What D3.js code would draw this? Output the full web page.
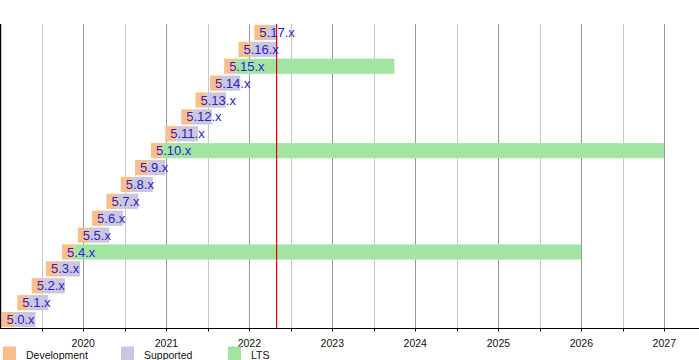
<!DOCTYPE html>
<html>
<head>
<meta charset="utf-8">
<script src="https://cdn.jsdelivr.net/npm/d3@7"></script>
<style>
  html, body { margin: 0; padding: 0; background: #fff; }
  svg { display: block; font-family: "Liberation Sans", Arial, sans-serif; }
</style>
</head>
<body>
<svg id="chart" width="699" height="360"></svg>
<script>
// ---- data ----
const versions   = ["5.0","5.1","5.2","5.3","5.4","5.5","5.6","5.7","5.8","5.9","5.10","5.11","5.12","5.13","5.14","5.15","5.16","5.17"];
const devStart   = ["2019-01-06","2019-03-17","2019-05-19","2019-07-21","2019-09-30","2019-12-08","2020-02-09","2020-04-12","2020-06-14","2020-08-16","2020-10-25","2020-12-27","2021-03-07","2021-05-09","2021-07-12","2021-09-12","2021-11-14","2022-01-23"];
const releaseDay = ["2019-03-03","2019-05-05","2019-07-07","2019-09-15","2019-11-24","2020-01-26","2020-03-29","2020-05-31","2020-08-02","2020-10-11","2020-12-13","2021-02-14","2021-04-25","2021-06-27","2021-08-29","2021-10-31","2022-01-09","2022-03-20"];
const endOfLife  = ["2019-06-05","2019-07-30","2019-10-12","2019-12-18","2025-12-31","2020-04-24","2020-06-24","2020-08-29","2020-11-02","2020-12-26","2026-12-31","2021-05-20","2021-07-20","2021-09-20","2021-11-22","2023-10-01","2022-05-01","2022-05-01"];
const isLTS      = [false,false,false,false,true,false,false,false,false,false,true,false,false,false,false,true,false,false];
const yearTicks  = ["2020","2021","2022","2023","2024","2025","2026","2027"];
const nowDate    = "2022-05-01";
const legendKeys = ["Development","Supported","LTS"];

// ---- styles ----
const colors = { Development: "#f9bf8b", Supported: "#cbc7de", LTS: "#a3e4a3" };
const textBlue = "#2a22cc";

const parse = d3.timeParse("%Y-%m-%d");
const svg = d3.select("#chart");

const topY = 24, bottomY = 328;
const x = d3.scaleTime()
  .domain([parse("2019-01-01"), parse("2027-01-01")])
  .range([0.3, 664.3]);
const y = d3.scaleBand()
  .domain(versions.slice().reverse())
  .range([topY, bottomY])
  .paddingInner(0.1)
  .paddingOuter(0.05);

// gridlines
const halfYears = d3.range(2019, 2028).map(yr => parse(yr + "-07-02"));
const years = yearTicks.map(t => parse(t + "-01-01"));
const grid = svg.append("g");
grid.selectAll("line.half").data(halfYears).join("line")
  .attr("x1", d => Math.round(x(d)) + 0.5).attr("x2", d => Math.round(x(d)) + 0.5)
  .attr("y1", topY).attr("y2", bottomY)
  .attr("stroke", "#c8c8c8").attr("stroke-width", 1);
grid.selectAll("line.year").data(years).join("line")
  .attr("x1", d => Math.round(x(d)) + 0.5).attr("x2", d => Math.round(x(d)) + 0.5)
  .attr("y1", topY).attr("y2", bottomY)
  .attr("stroke", "#999").attr("stroke-width", 1);

// bars
const rows = versions.map((v, i) => ({
  v, dev: parse(devStart[i]), rel: parse(releaseDay[i]), eol: parse(endOfLife[i]), lts: isLTS[i]
}));
const bars = svg.append("g");
rows.forEach(r => {
  const yy = y(r.v), h = y.bandwidth();
  bars.append("rect")
    .attr("x", x(r.dev)).attr("y", yy)
    .attr("width", Math.max(0, x(r.rel) - x(r.dev))).attr("height", h)
    .attr("fill", colors.Development);
  bars.append("rect")
    .attr("x", x(r.rel)).attr("y", yy)
    .attr("width", Math.max(0, x(r.eol) - x(r.rel))).attr("height", h)
    .attr("fill", r.lts ? colors.LTS : colors.Supported);
});

// now line
svg.append("line")
  .attr("x1", x(parse(nowDate))).attr("x2", x(parse(nowDate)))
  .attr("y1", topY).attr("y2", bottomY)
  .attr("stroke", "#e00000").attr("stroke-width", 1.2);

// labels
svg.append("g").selectAll("text").data(rows).join("text")
  .attr("x", d => x(d.dev) + 5)
  .attr("y", d => y(d.v) + y.bandwidth() / 2 + 4.6)
  .attr("font-size", "13px")
  .attr("fill", textBlue)
  .text(d => d.v + ".x");

// axes lines
svg.append("line").attr("x1", 0).attr("x2", 699).attr("y1", bottomY + 0.5).attr("y2", bottomY + 0.5)
  .attr("stroke", "#000").attr("stroke-width", 1.2);
svg.append("line").attr("x1", 0.5).attr("x2", 0.5).attr("y1", topY).attr("y2", bottomY)
  .attr("stroke", "#000").attr("stroke-width", 1.4);

// ticks
svg.append("g").selectAll("line").data(halfYears.concat(years)).join("line")
  .attr("x1", d => Math.round(x(d)) + 0.5).attr("x2", d => Math.round(x(d)) + 0.5)
  .attr("y1", bottomY).attr("y2", bottomY + 3.5)
  .attr("stroke", "#000");

svg.append("g").selectAll("text").data(yearTicks).join("text")
  .attr("x", d => x(parse(d + "-01-01")))
  .attr("y", 347)
  .attr("text-anchor", "middle")
  .attr("font-size", "10.5px")
  .attr("fill", "#111")
  .text(d => d);

// legend
const legendX = [3, 121, 228];
const lg = svg.append("g");
legendKeys.forEach((k, i) => {
  lg.append("rect").attr("x", legendX[i]).attr("y", 346.5).attr("width", 13).attr("height", 14)
    .attr("fill", colors[k]);
  lg.append("text").attr("x", legendX[i] + 23).attr("y", 359)
    .attr("font-size", "10.5px").attr("fill", "#111").text(k);
});
</script>
</body>
</html>
